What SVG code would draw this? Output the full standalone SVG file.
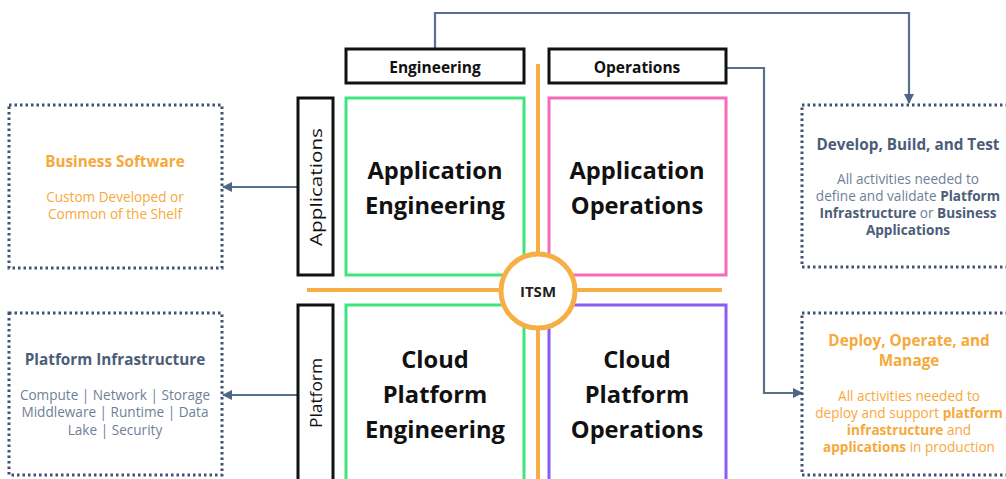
<svg xmlns="http://www.w3.org/2000/svg" width="1006" height="479" viewBox="0 0 1006 479">
<defs>
<marker id="ah" markerWidth="10" markerHeight="10" refX="9" refY="5" orient="auto" markerUnits="userSpaceOnUse">
<path d="M0,0 L10,5 L0,10 z" fill="#4e6588"/>
</marker>
<style>
.hdr{fill:#fff;stroke:#111;stroke-width:3}
.dot{fill:#fff;stroke:#3f5272;stroke-width:3;stroke-dasharray:2.5 3}
.con{fill:none;stroke:#57708f;stroke-width:2.2}
.t{font-family:"Open Sans",sans-serif;text-anchor:middle}
.hd{font-size:15.5px;font-weight:700;fill:#111}
.big{font-size:23.7px;font-weight:700;fill:#111}
.ot{fill:#f7a83b}
.bt{fill:#4d5d78}
.st{fill:#6f7f97}
.sm{font-size:13.6px}
.ttl{font-size:15.3px;font-weight:700}
.vt{font-size:16.5px;fill:#111}
</style>
</defs>
<rect width="1006" height="479" fill="#fff"/>
<g id="connectors">
<path class="con" d="M435,48 V13 H909 V103" marker-end="url(#ah)"/>
<path class="con" d="M727,68 H764 V393 H802" marker-end="url(#ah)"/>
<path class="con" d="M298,187 H223" marker-end="url(#ah)"/>
<path class="con" d="M298,395 H223" marker-end="url(#ah)"/>
</g>
<g id="cross">
<line x1="538" y1="64" x2="538" y2="479" stroke="#f7ae45" stroke-width="4"/>
<line x1="307" y1="290" x2="722" y2="290" stroke="#f7ae45" stroke-width="4"/>
</g>
<g id="engineering"><rect class="hdr" x="346" y="49" width="178" height="34"/><text class="t hd" x="435" y="73">Engineering</text></g>
<g id="operations"><rect class="hdr" x="549" y="49" width="177" height="34"/><text class="t hd" x="637" y="73">Operations</text></g>
<g id="applications"><rect class="hdr" x="298" y="98" width="35" height="177"/><text class="t vt" transform="translate(322,187) rotate(-90)" textLength="118" lengthAdjust="spacingAndGlyphs">Applications</text></g>
<g id="platform"><rect class="hdr" x="298" y="305" width="35" height="190"/><text class="t vt" transform="translate(322,393) rotate(-90)" textLength="70" lengthAdjust="spacingAndGlyphs">Platform</text></g>
<g id="app-eng"><rect x="346" y="98" width="178" height="177" fill="none" stroke="#3ee57c" stroke-width="3"/>
<text class="t big" x="435" y="179">Application</text><text class="t big" x="435" y="214">Engineering</text></g>
<g id="app-ops"><rect x="549" y="98" width="177" height="177" fill="none" stroke="#f46bb8" stroke-width="3"/>
<text class="t big" x="637" y="179">Application</text><text class="t big" x="637" y="214">Operations</text></g>
<g id="cloud-eng"><rect x="346" y="305" width="178" height="190" fill="none" stroke="#3ee57c" stroke-width="3"/>
<text class="t big" x="435" y="368">Cloud</text><text class="t big" x="435" y="403">Platform</text><text class="t big" x="435" y="438">Engineering</text></g>
<g id="cloud-ops"><rect x="549" y="305" width="177" height="190" fill="none" stroke="#8a5cf2" stroke-width="3"/>
<text class="t big" x="637" y="368">Cloud</text><text class="t big" x="637" y="403">Platform</text><text class="t big" x="637" y="438">Operations</text></g>
<g id="itsm"><circle cx="538" cy="291" r="37" fill="#fff" stroke="#f7ae45" stroke-width="5"/><text class="t" style="font-size:15px;font-weight:700;fill:#222" x="538" y="297">ITSM</text></g>
<g id="business-software"><rect class="dot" x="9" y="105" width="213" height="163"/>
<text class="t ttl ot" x="115" y="167">Business Software</text>
<text class="t sm ot" x="115" y="202">Custom Developed or</text>
<text class="t sm ot" x="115" y="219">Common of the Shelf</text></g>
<g id="platform-infrastructure"><rect class="dot" x="9" y="313" width="213" height="162"/>
<text class="t ttl bt" x="115" y="365">Platform Infrastructure</text>
<text class="t sm st" x="115" y="400">Compute | Network | Storage</text>
<text class="t sm st" x="115" y="417">Middleware | Runtime | Data</text>
<text class="t sm st" x="115" y="435">Lake | Security</text></g>
<g id="develop"><rect class="dot" x="802" y="105" width="220" height="162"/>
<text class="t ttl bt" x="908" y="150">Develop, Build, and Test</text>
<text class="t sm st" x="908" y="184">All activities needed to</text>
<text class="t sm st" x="908" y="201">define and validate <tspan font-weight="700" fill="#4d5d78">Platform</tspan></text>
<text class="t sm st" x="908" y="218"><tspan font-weight="700" fill="#4d5d78">Infrastructure</tspan> or <tspan font-weight="700" fill="#4d5d78">Business</tspan></text>
<text class="t sm st" x="908" y="235"><tspan font-weight="700" fill="#4d5d78">Applications</tspan></text></g>
<g id="deploy"><rect class="dot" x="802" y="313" width="220" height="162"/>
<text class="t ttl ot" x="909" y="346">Deploy, Operate, and</text>
<text class="t ttl ot" x="909" y="366">Manage</text>
<text class="t sm ot" x="909" y="401">All activities needed to</text>
<text class="t sm ot" x="909" y="418">deploy and support <tspan font-weight="700">platform</tspan></text>
<text class="t sm ot" x="909" y="435"><tspan font-weight="700">infrastructure</tspan> and</text>
<text class="t sm ot" x="909" y="452"><tspan font-weight="700">applications</tspan> in production</text></g>
</svg>
